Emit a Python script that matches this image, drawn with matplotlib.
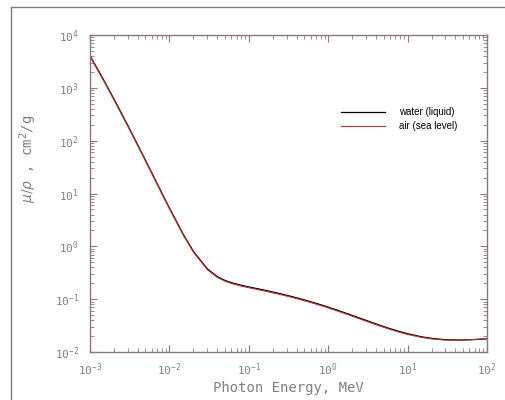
import matplotlib
matplotlib.use("Agg")
import matplotlib.pyplot as plt
from matplotlib.lines import Line2D
from matplotlib.ticker import LogLocator, FixedLocator, FixedFormatter, NullFormatter

# photon energy (MeV)
energy = [1e-3, 1.5e-3, 2e-3, 3e-3, 4e-3, 5e-3, 6e-3, 8e-3, 1e-2, 1.5e-2,
          2e-2, 3e-2, 4e-2, 5e-2, 6e-2, 8e-2, 0.1, 0.15, 0.2, 0.3, 0.4, 0.5,
          0.6, 0.8, 1.0, 1.25, 1.5, 2.0, 3.0, 4.0, 5.0, 6.0, 8.0, 10.0, 15.0,
          20.0, 30.0, 40.0, 50.0, 60.0, 80.0, 100.0]

# mass attenuation coefficient, cm^2/g
water = [4078, 1376, 617.3, 192.9, 82.78, 42.58, 24.64, 10.37, 5.329, 1.673,
         0.8096, 0.3756, 0.2683, 0.2269, 0.2059, 0.1837, 0.1707, 0.1505,
         0.137, 0.1186, 0.1061, 0.09687, 0.08956, 0.07865, 0.07072, 0.06323,
         0.05754, 0.04942, 0.03969, 0.03403, 0.03031, 0.0277, 0.02429,
         0.02219, 0.01941, 0.01813, 0.0171, 0.01689, 0.01692, 0.01705,
         0.0174, 0.01777]
air = [3930, 1325, 595, 186, 80, 41.1, 23.8, 10.0, 5.14, 1.615,
       0.781, 0.362, 0.259, 0.219, 0.199, 0.177, 0.165, 0.145,
       0.132, 0.1145, 0.1025, 0.0935, 0.0865, 0.076, 0.0683, 0.061,
       0.0556, 0.0477, 0.0383, 0.0329, 0.0293, 0.0268, 0.0235,
       0.0215, 0.0189, 0.0177, 0.0168, 0.0167, 0.0168, 0.0170,
       0.0175, 0.0180]

xticks = [1e-3, 1e-2, 1e-1, 1e0, 1e1, 1e2]
xlabels = [r"$\mathregular{10^{-3}}$", r"$\mathregular{10^{-2}}$", r"$\mathregular{10^{-1}}$",
           r"$\mathregular{10^{0}}$", r"$\mathregular{10^{1}}$", r"$\mathregular{10^{2}}$"]
yticks = [1e-2, 1e-1, 1e0, 1e1, 1e2, 1e3, 1e4]
ylabels = [r"$\mathregular{10^{-2}}$", r"$\mathregular{10^{-1}}$", r"$\mathregular{10^{0}}$",
           r"$\mathregular{10^{1}}$", r"$\mathregular{10^{2}}$", r"$\mathregular{10^{3}}$",
           r"$\mathregular{10^{4}}$"]

axcol = "#8c7878"
txtcol = "#808080"

plt.rcParams["font.family"] = ["DejaVu Sans Mono"]

fig = plt.figure(figsize=(5.06, 4.0), dpi=100)
ax = fig.add_axes([90 / 506, 48 / 400, 397 / 506, 317 / 400])

# outer frame (left and top edges visible)
fig.add_artist(Line2D([11 / 506, 11 / 506], [0, 393 / 400], transform=fig.transFigure,
                      color=axcol, lw=1.0))
fig.add_artist(Line2D([11 / 506, 1], [393 / 400, 393 / 400], transform=fig.transFigure,
                      color=axcol, lw=1.0))

ax.plot(energy, water, color="black", lw=0.9, label="water (liquid)")
ax.plot(energy, air, color="#b83030", lw=0.8, label="air (sea level)")

ax.set_xscale("log")
ax.set_yscale("log")
ax.set_xlim(1e-3, 1e2)
ax.set_ylim(1e-2, 1e4)

ax.xaxis.set_major_locator(FixedLocator(xticks))
ax.xaxis.set_major_formatter(FixedFormatter(xlabels))
ax.yaxis.set_major_locator(FixedLocator(yticks))
ax.yaxis.set_major_formatter(FixedFormatter(ylabels))
ax.xaxis.set_minor_locator(LogLocator(base=10, subs=range(2, 10), numticks=20))
ax.yaxis.set_minor_locator(LogLocator(base=10, subs=range(2, 10), numticks=20))
ax.xaxis.set_minor_formatter(NullFormatter())
ax.yaxis.set_minor_formatter(NullFormatter())

ax.tick_params(which="both", direction="in", top=True, right=True, color=axcol,
               labelcolor=txtcol, labelsize=8)
ax.tick_params(which="major", length=5, width=0.8)
ax.tick_params(which="minor", length=3, width=0.6)
ax.tick_params(axis="x", which="major", pad=7)
ax.tick_params(axis="y", which="major", pad=8)
for s in ax.spines.values():
    s.set_color(axcol)
    s.set_linewidth(1.0)

ax.set_xlabel("Photon Energy, MeV", fontsize=10, color=txtcol, labelpad=2)
ax.set_ylabel(r"$\mu/\rho$ , cm$^2$/g", fontsize=10, color=txtcol)
ax.yaxis.set_label_coords(-0.128, 0.61)

leg = ax.legend(loc="upper left", bbox_to_anchor=(0.62, 0.787), frameon=False,
                prop={"family": "Liberation Sans", "size": 7},
                handlelength=4.5, handletextpad=1.5, labelspacing=0.4, borderpad=0)

plt.savefig("out.png", dpi=100)
